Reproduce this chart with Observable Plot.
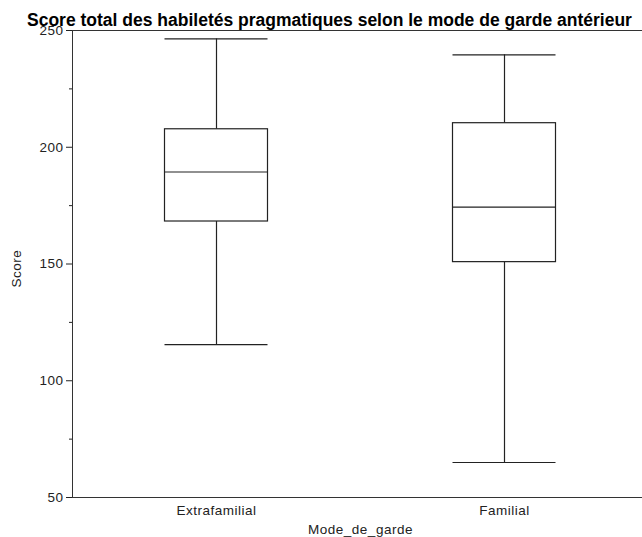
<!DOCTYPE html>
<html><head><meta charset="utf-8">
<script src="https://cdn.jsdelivr.net/npm/d3@7"></script>
<script src="https://cdn.jsdelivr.net/npm/@observablehq/plot@0.6"></script>
<style>
body{margin:0;background:#fff;overflow:hidden;}
#wrap{position:relative;width:642px;height:537px;overflow:hidden;}
#title{position:absolute;left:27px;top:12px;font:bold 17.5px "Liberation Sans",Arial,sans-serif;color:#000;white-space:nowrap;z-index:1;line-height:1;}
</style></head><body>
<div id="wrap"><div id="title">Score total des habiletés pragmatiques selon le mode de garde antérieur</div></div>
<script>
const categories = ["Extrafamilial", "Familial"];
const whiskerLow = [115.5, 65];
const q1 = [168.2, 150.8];
const median = [189.4, 174.4];
const q3 = [207.7, 210.3];
const whiskerHigh = [246.4, 239.6];
const majorTicks = [50, 100, 150, 200, 250];
const minorTicks = [75, 125, 175, 225];
const xLabel = "Mode_de_garde";
const yLabel = "Score";

const data = categories.map((c, i) => ({cat: c, lo: whiskerLow[i], q1: q1[i], med: median[i], q3: q3[i], hi: whiskerHigh[i]}));
const ink = "#222";
const inset = 92.5;

const chart = Plot.plot({
  width: 642,
  height: 537,
  marginTop: 30,
  marginBottom: 40,
  marginLeft: 72,
  marginRight: -6,
  style: {fontFamily: '"Liberation Sans", Arial, sans-serif', fontSize: "13.5px", letterSpacing: "0.5px", color: "#222", background: "white", overflow: "hidden"},
  x: {type: "band", domain: categories, padding: 0},
  y: {domain: [50, 250]},
  marks: [
    Plot.frame({stroke: "#333", strokeWidth: 1}),
    Plot.axisY({ticks: majorTicks, tickSize: 6, tickPadding: 3, label: null, fontSize: 13.5}),
    Plot.axisY({ticks: minorTicks, tickSize: 3, tickFormat: () => "", label: null}),
    Plot.axisX({tickSize: 0, tickPadding: 8, label: null, fontSize: 13.5}),
    Plot.ruleX(data, {x: "cat", y1: "lo", y2: "q1", stroke: ink, strokeWidth: 1.2}),
    Plot.ruleX(data, {x: "cat", y1: "q3", y2: "hi", stroke: ink, strokeWidth: 1.2}),
    Plot.barY(data, {x: "cat", y1: "q1", y2: "q3", fill: "white", stroke: ink, strokeWidth: 1.2, insetLeft: inset, insetRight: inset}),
    Plot.tickY(data, {x: "cat", y: "med", stroke: ink, strokeWidth: 1.2, insetLeft: inset, insetRight: inset}),
    Plot.tickY(data, {x: "cat", y: "lo", stroke: ink, strokeWidth: 1.2, insetLeft: inset, insetRight: inset}),
    Plot.tickY(data, {x: "cat", y: "hi", stroke: ink, strokeWidth: 1.2, insetLeft: inset, insetRight: inset}),
    Plot.text([yLabel], {frameAnchor: "left", textAnchor: "middle", lineAnchor: "middle", rotate: -90, dx: -56, dy: 4.5, fontSize: 13.5, fill: "#222"}),
    Plot.text([xLabel], {frameAnchor: "bottom", dy: 36, fontSize: 13.5, fill: "#222"})
  ]
});
document.getElementById("wrap").appendChild(chart);
</script>
</body></html>
